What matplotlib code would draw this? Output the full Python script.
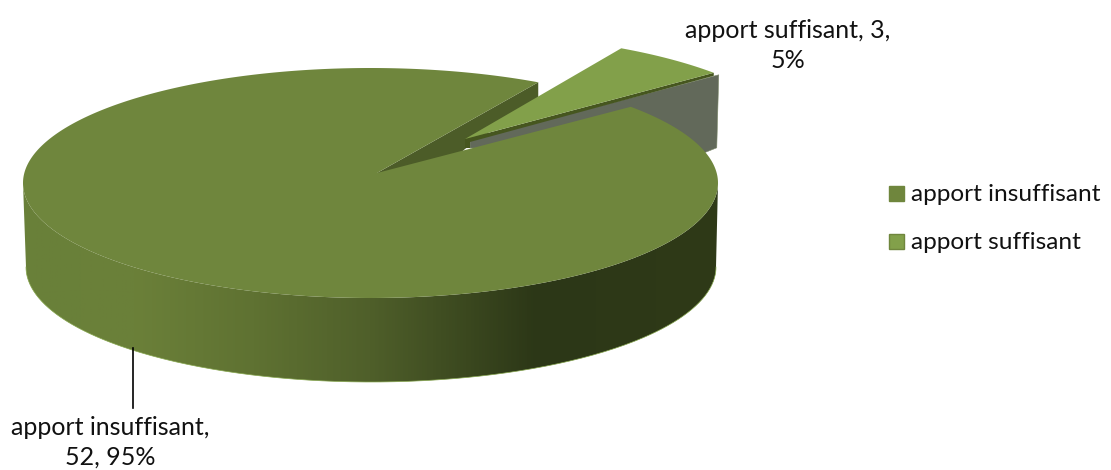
import numpy as np
import matplotlib
matplotlib.use("Agg")
import matplotlib.pyplot as plt
from matplotlib.patches import Polygon, Rectangle
from matplotlib.colors import LinearSegmentedColormap

categories = ["apport insuffisant", "apport suffisant"]
values = [52, 3]
percents = [95, 5]

TOP_MAIN = "#6f863d"
TOP_SLICE = "#82a04a"
WALL_DARK = "#4c5c28"
STRIP_DARK = "#46561f"
WALL_GREY = "#62695a"
EDGE = "#86a64e"

plt.rcParams["font.family"] = ["Lato", "DejaVu Sans"]
FS_LABEL = 18.0
FS_LEGEND = 17.6

fig = plt.figure(figsize=(11.11, 4.70), dpi=100)
ax = fig.add_axes([0, 0, 1, 1])
ax.set_xlim(0, 1111)
ax.set_ylim(470, 0)
ax.axis("off")

# pie projection (pixels)
cx, cy, a, b = 370.5, 183.0, 347.5, 115.0
bx, by, ba, bb = 371.0, 267.0, 345.0, 115.0
apex = np.array([377.0, 173.0])
ex = np.array([83.0, -34.0])
apex_ex = apex + np.array([88.0, -34.0])
start = 41.5


def ell(t, x0=cx, y0=cy, ra=a, rb=b):
    t = np.radians(t)
    return np.column_stack([x0 + ra * np.cos(t), y0 - rb * np.sin(t)])


sweep = 360.0 * values[1] / sum(values)
t_slice = np.linspace(start, start + sweep, 40)
t_main = np.linspace(start + sweep, start + 360.0, 400)

# Side of the main slice with a horizontal gradient
tt = np.linspace(180, 360, 300)
side = np.vstack([ell(tt), ell(tt[::-1], bx, by, ba, bb)])
cmap = LinearSegmentedColormap.from_list(
    "side",
    [(0.0, "#69803a"), (0.16, "#6b8039"), (0.33, "#5f7232"), (0.5, "#4f5f2a"),
     (0.74, "#2c3717"), (1.0, "#2f3a18")],
)
grad = np.linspace(0, 1, 700)[None, :]
im = ax.imshow(grad, cmap=cmap, extent=[23, 718, 400, 180], aspect="auto", zorder=2)
clip = Polygon(side, closed=True, transform=ax.transData)
im.set_clip_path(clip)
ax.set_xlim(0, 1111)
ax.set_ylim(470, 0)
low = ell(np.linspace(180, 360, 300), bx, by, ba, bb)
ax.plot(low[:, 0], low[:, 1], color=EDGE, lw=0.5, zorder=2.5)

# Inner wall of the gap in the main slice
p_gap = ell(start + sweep)[0]
ax.add_patch(Polygon([apex, p_gap, p_gap + [0, 15], apex_ex + [0, 10], apex + [60, 0]],
                     closed=True, fc=WALL_DARK, ec="none", zorder=3))

# Grey wall of the exploded slice
p_out = ell(start)[0] + ex
ax.add_patch(Polygon([apex_ex + [5, 1], p_out + [5, 2], p_out + [3, 75],
                      p_out + [-12, 81], apex_ex + [5, 9]],
                     closed=True, fc=WALL_GREY, ec="#7d8a6a", lw=0.4, zorder=3.2))

# Main top
main_top = np.vstack([apex, ell(t_main)])
ax.add_patch(Polygon(main_top, closed=True, fc=TOP_MAIN, ec="none", zorder=4))

# Exploded slice
ax.add_patch(Polygon([apex_ex, p_out, p_out + [0, 3], apex_ex + [5, 3],
                      apex_ex + [5, 9], apex_ex + [0, 9]],
                     closed=True, fc=STRIP_DARK, ec="none", zorder=5))
slice_top = np.vstack([apex_ex, ell(t_slice) + ex])
ax.add_patch(Polygon(slice_top, closed=True, fc=TOP_SLICE, ec="none", zorder=6))

# Leader line
ax.plot([133, 133], [348, 408], color="black", lw=1.2, zorder=7)

# Data labels
ax.text(787.5, 45.5, f"{categories[1]}, {values[1]},\n{percents[1]}%", ha="center", va="center",
        fontsize=FS_LABEL, color="#111111", linespacing=1.37, zorder=8)
ax.text(110, 442.5, f"{categories[0]},\n{values[0]}, {percents[0]}%", ha="center", va="center",
        fontsize=FS_LABEL, color="#111111", linespacing=1.37, zorder=8)

# Legend
for y, fc, name, ty in zip([193.5, 241.5], [TOP_MAIN, TOP_SLICE], categories, [194.5, 242.5]):
    ax.add_patch(Rectangle((888.5, y - 7.5), 15, 15, fc=fc, ec="#6f863d", lw=1, zorder=8))
    ax.text(911, ty, name, ha="left", va="center", fontsize=FS_LEGEND, color="#111111", zorder=8)

fig.savefig("out.png", dpi=100)
